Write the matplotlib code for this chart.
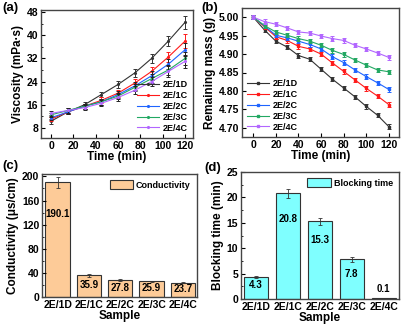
import matplotlib
matplotlib.use("Agg")
import matplotlib.pyplot as plt
from matplotlib.ticker import MultipleLocator, AutoMinorLocator

plt.rcParams['font.family'] = ['Liberation Sans', 'DejaVu Sans']
plt.rcParams['font.weight'] = 'bold'
plt.rcParams['axes.labelweight'] = 'bold'

# (a) viscosity
t_visc = [0, 15, 30, 45, 60, 75, 90, 105, 120]
visc = {
    "2E/1D": [10.3, 13.5, 16.0, 19.5, 23.0, 27.0, 32.0, 38.0, 44.5],
    "2E/1C": [11.0, 13.5, 15.5, 17.5, 20.0, 23.5, 27.5, 32.5, 38.0],
    "2E/2C": [11.5, 13.5, 15.5, 17.0, 19.5, 22.5, 26.0, 30.0, 35.0],
    "2E/3C": [12.5, 14.0, 15.5, 17.0, 19.0, 22.0, 25.0, 28.0, 32.0],
    "2E/4C": [13.0, 14.0, 15.0, 16.5, 18.5, 21.0, 24.0, 27.5, 31.0],
}
visc_err = [0.8, 0.8, 0.9, 1.0, 1.2, 1.3, 1.5, 1.8, 2.3]

# (b) remaining mass
t_mass = [0, 10, 20, 30, 40, 50, 60, 70, 80, 90, 100, 110, 120]
mass = {
    "2E/1D": [5.000, 4.965, 4.935, 4.919, 4.896, 4.886, 4.859, 4.832, 4.808, 4.784, 4.758, 4.734, 4.703],
    "2E/1C": [5.000, 4.974, 4.947, 4.937, 4.921, 4.914, 4.900, 4.876, 4.853, 4.830, 4.807, 4.786, 4.763],
    "2E/2C": [5.000, 4.976, 4.951, 4.944, 4.935, 4.926, 4.914, 4.893, 4.877, 4.857, 4.839, 4.822, 4.804],
    "2E/3C": [5.000, 4.977, 4.960, 4.951, 4.942, 4.935, 4.924, 4.910, 4.899, 4.884, 4.870, 4.857, 4.852],
    "2E/4C": [5.000, 4.988, 4.981, 4.971, 4.960, 4.957, 4.949, 4.942, 4.937, 4.924, 4.914, 4.903, 4.891],
}
mass_err = 0.006

# (c), (d) bars
samples = ["2E/1D", "2E/1C", "2E/2C", "2E/3C", "2E/4C"]
conductivity = [190.1, 35.9, 27.8, 25.9, 23.7]
cond_err = [9.0, 2.5, 1.5, 1.0, 1.0]
blocking = [4.3, 20.8, 15.3, 7.8, 0.1]
block_err = [0.2, 0.9, 0.7, 0.5, 0.05]

colors = ["#333333", "#FF1A1A", "#1E64FF", "#22A862", "#B266FF"]

W, H = 408, 328
fig = plt.figure(figsize=(W / 100, H / 100), dpi=100)


def box(l, r, t, b):
    return [l / W, (H - b) / H, (r - l) / W, (b - t) / H]


def style(ax):
    ax.tick_params(direction="in", length=3, width=0.8, labelsize=7.5, pad=2)
    ax.tick_params(which="minor", direction="in", length=1.5, width=0.6)
    for s in ax.spines.values():
        s.set_linewidth(1.0)
        s.set_color("#444444")
    for lab in ax.get_xticklabels() + ax.get_yticklabels():
        lab.set_fontweight("bold")


def line_legend(ax, loc):
    ax.legend(loc=loc, frameon=False, fontsize=6.5, handlelength=2.4, labelspacing=0.2,
              borderaxespad=0.2, handletextpad=0.4)


# (a)
ax = fig.add_axes(box(41, 193, 10, 138))
for (name, vals), c in zip(visc.items(), colors):
    ec = c if name in ("2E/1D", "2E/1C") else "#222222"
    ax.errorbar(t_visc, vals, yerr=visc_err, fmt="none", ecolor=ec,
                capsize=1.5, elinewidth=0.7, capthick=0.7)
    ax.plot(t_visc, vals, color=c, lw=0.8, marker=".", ms=2.5, label=name)
ax.set_xlim(-9, 127)
ax.set_ylim(4.5, 48.7)
ax.xaxis.set_major_locator(MultipleLocator(20))
ax.yaxis.set_major_locator(MultipleLocator(8))
ax.yaxis.set_minor_locator(AutoMinorLocator(2))
ax.set_xlabel("Time (min)", fontsize=8.5, labelpad=0)
ax.set_ylabel("Viscosity (mPa·s)", fontsize=8.5, labelpad=2)
line_legend(ax, "lower right")
style(ax)

# (b)
ax = fig.add_axes(box(242, 399, 8, 137))
for (name, vals), c in zip(mass.items(), colors):
    ax.errorbar(t_mass, vals, yerr=mass_err, fmt="none", ecolor=c,
                capsize=1.5, elinewidth=0.7, capthick=0.7)
    ax.plot(t_mass, vals, color=c, lw=0.8, marker="s", ms=1.5, label=name)
ax.set_xlim(-10, 129)
ax.set_ylim(4.675, 5.025)
ax.xaxis.set_major_locator(MultipleLocator(20))
ax.yaxis.set_major_locator(MultipleLocator(0.05))
ax.yaxis.set_major_formatter(plt.FormatStrFormatter("%.2f"))
ax.set_xlabel("Time (min)", fontsize=8.5, labelpad=0)
ax.set_ylabel("Remaining mass (g)", fontsize=8.5, labelpad=2)
line_legend(ax, "lower left")
style(ax)

# (c)
ax = fig.add_axes(box(42, 197, 174, 297))
x = range(len(samples))
ax.bar(x, conductivity, width=0.78, color="#FDCB98", edgecolor="#333333", lw=0.8,
       yerr=cond_err, error_kw=dict(elinewidth=0.6, capsize=1.5, capthick=0.6, ecolor="#333333"),
       label="Conductivity")
for i, v in enumerate(conductivity):
    ax.text(i, v * (0.72 if v > 100 else 0.55), f"{v:.1f}", ha="center", va="center",
            fontsize=7, fontweight="bold")
ax.set_xlim(-0.5, 4.45)
ax.set_ylim(0, 204)
ax.set_xticks(list(x))
ax.set_xticklabels(samples)
ax.yaxis.set_major_locator(MultipleLocator(40))
ax.yaxis.set_minor_locator(AutoMinorLocator(2))
ax.set_xlabel("Sample", fontsize=8.5, labelpad=0)
ax.set_ylabel("Conductivity (μs/cm)", fontsize=8.5, labelpad=2)
ax.legend(loc="upper right", frameon=False, fontsize=6.5, handlelength=2.6, handleheight=1.1,
          borderaxespad=0.3, handletextpad=0.3)
style(ax)
ax.tick_params(axis="x", length=0)

# (d)
ax = fig.add_axes(box(241, 399, 172, 299))
ax.bar(x, blocking, width=0.75, color="#7FFFFF", edgecolor="#333333", lw=0.8,
       yerr=block_err, error_kw=dict(elinewidth=0.6, capsize=1.5, capthick=0.6, ecolor="#333333"),
       label="Blocking time")
for i, v in enumerate(blocking):
    ax.text(i, max(v * (0.76 if v > 10 else 0.63), 2.0), f"{v:.1f}", ha="center", va="center",
            fontsize=7, fontweight="bold")
ax.set_xlim(-0.47, 4.48)
ax.set_ylim(0, 25)
ax.set_xticks(list(x))
ax.set_xticklabels(samples)
ax.yaxis.set_major_locator(MultipleLocator(5))
ax.yaxis.set_minor_locator(AutoMinorLocator(2))
ax.set_xlabel("Sample", fontsize=8.5, labelpad=0)
ax.set_ylabel("Blocking time (min)", fontsize=8.5, labelpad=2)
ax.legend(loc="upper right", frameon=False, fontsize=6.5, handlelength=2.6, handleheight=1.1,
          borderaxespad=0.3, handletextpad=0.3)
style(ax)
ax.tick_params(axis="x", length=0)

for lab, px, py in [("(a)", 2, 2), ("(b)", 201, 2), ("(c)", 2, 160), ("(d)", 204, 162)]:
    fig.text(px / W, 1 - py / H, lab, fontsize=9.5, fontweight="bold", ha="left", va="top")

fig.savefig("out.png", dpi=100)
